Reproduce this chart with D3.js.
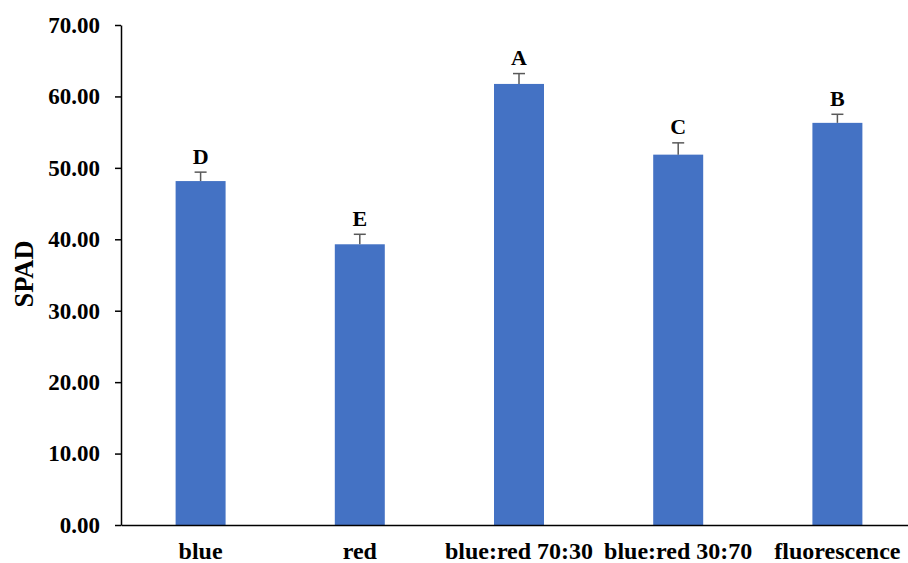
<!DOCTYPE html>
<html>
<head>
<meta charset="utf-8">
<script src="https://cdn.jsdelivr.net/npm/d3@7"></script>
<style>
  html, body { margin: 0; padding: 0; background: #fff; }
  svg { display: block; }
  text { font-family: "Liberation Serif", "Times New Roman", serif; font-weight: bold; }
</style>
</head>
<body>
<svg id="chart" width="908" height="563"></svg>
<script>
// SPAD readings per light treatment
const categories = ["blue", "red", "blue:red 70:30", "blue:red 30:70", "fluorescence"];
const spadMean = [48.15, 39.3, 61.75, 51.85, 56.3];
const spadErr = [1.25, 1.4, 1.45, 1.65, 1.2];
const groupLetters = ["D", "E", "A", "C", "B"];
const yTicks = [0, 10, 20, 30, 40, 50, 60, 70];

const serif = "Liberation Serif, Times New Roman, serif";
const svg = d3.select("#chart");
const plot = { left: 121, right: 917, top: 25, bottom: 525 };

const x = d3.scaleBand()
  .domain(categories)
  .range([plot.left, plot.right])
  .paddingInner(0.686)
  .paddingOuter(0.343);

const y = d3.scaleLinear()
  .domain([0, 70])
  .range([plot.bottom, plot.top]);

// bars
svg.append("g")
  .selectAll("rect")
  .data(categories)
  .join("rect")
  .attr("x", d => x(d))
  .attr("width", x.bandwidth())
  .attr("y", (d, i) => y(spadMean[i]))
  .attr("height", (d, i) => y(0) - y(spadMean[i]))
  .attr("fill", "#4472c4");

// upper error bars
const err = svg.append("g")
  .attr("stroke", "#595959")
  .attr("stroke-width", 1.5);
categories.forEach((c, i) => {
  const cx = x(c) + x.bandwidth() / 2;
  const top = y(spadMean[i] + spadErr[i]);
  err.append("line")
    .attr("x1", cx).attr("x2", cx)
    .attr("y1", y(spadMean[i])).attr("y2", top);
  err.append("line")
    .attr("x1", cx - 6).attr("x2", cx + 6)
    .attr("y1", top).attr("y2", top);
});

// significance letters
svg.append("g")
  .selectAll("text")
  .data(categories)
  .join("text")
  .attr("x", d => x(d) + x.bandwidth() / 2)
  .attr("y", (d, i) => y(spadMean[i] + spadErr[i]) - 8.5)
  .attr("text-anchor", "middle")
  .attr("font-size", 22)
  .attr("fill", "#000")
  .text((d, i) => groupLetters[i]);

// y axis
const yAxis = svg.append("g")
  .attr("transform", `translate(${plot.left},0)`)
  .call(d3.axisLeft(y).tickValues(yTicks).tickFormat(d3.format(".2f")).tickSize(6).tickPadding(15).tickSizeOuter(0));
yAxis.select(".domain").attr("stroke", "#000").attr("stroke-width", 1.5);
yAxis.selectAll(".tick line").attr("stroke", "#000").attr("stroke-width", 1.5);
yAxis.selectAll(".tick text")
  .attr("font-size", 23)
  .attr("font-family", serif)
  .attr("font-weight", "bold")
  .attr("fill", "#000");

// x axis
const xAxis = svg.append("g")
  .attr("transform", `translate(0,${plot.bottom})`)
  .call(d3.axisBottom(x).tickSize(0).tickPadding(17).tickSizeOuter(0));
xAxis.select(".domain").attr("stroke", "#000").attr("stroke-width", 1.5);
xAxis.selectAll(".tick text")
  .attr("font-size", 24)
  .attr("font-family", serif)
  .attr("font-weight", "bold")
  .attr("fill", "#000");

// y axis title
svg.append("text")
  .attr("transform", `translate(33,274) rotate(-90)`)
  .attr("text-anchor", "middle")
  .attr("font-size", 26.5)
  .attr("fill", "#000")
  .text("SPAD");
</script>
</body>
</html>
